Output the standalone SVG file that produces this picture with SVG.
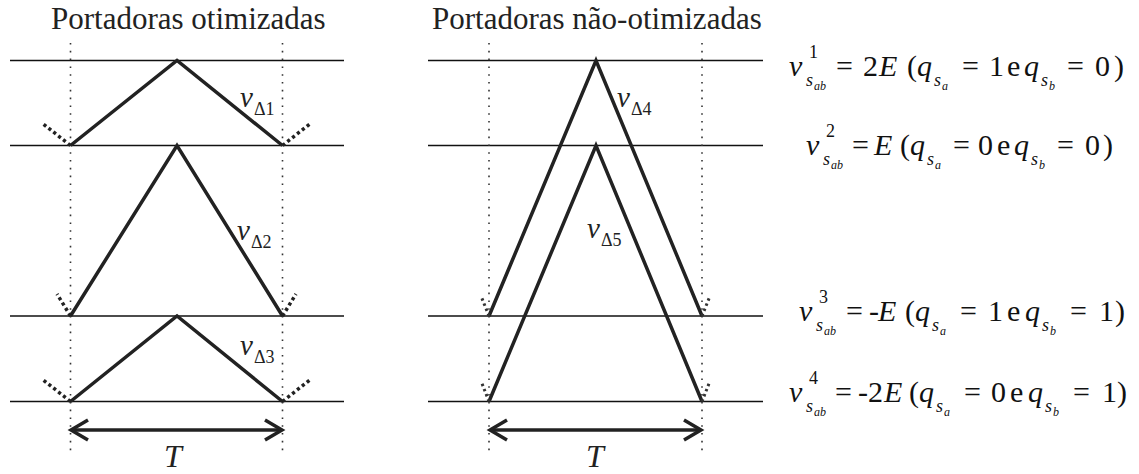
<svg xmlns="http://www.w3.org/2000/svg" width="1139" height="474" viewBox="0 0 1139 474">
<style>
.bg{fill:#fff}
.h{stroke:#111;stroke-width:1.5}
.dv{stroke:#333;stroke-width:1.6;stroke-dasharray:1.6 6.2}
.tri{stroke:#222;stroke-width:3.5;fill:none;stroke-linejoin:miter}
.ext{stroke:#222;stroke-width:3.5;stroke-dasharray:3.2 3}
.ext2{stroke:#333;stroke-width:3;stroke-dasharray:2.5 3}
.arr{stroke:#222;stroke-width:3.5;fill:none}
.title{font-family:'Liberation Serif','Times New Roman',serif;font-size:31px;fill:#222}
.eq{font-family:'Liberation Serif','Times New Roman',serif;font-size:30px;fill:#111}
.lbl{font-family:'Liberation Serif','Times New Roman',serif;font-size:29px;fill:#222}
.it{font-style:italic}
.sm{font-size:18px}
.xs{font-size:12px}
.T{font-family:'Liberation Serif','Times New Roman',serif;font-size:32px;font-style:italic;fill:#222}
</style>
<rect class="bg" x="0" y="0" width="1139" height="474"/>

<g id="titles">
<text class="title" x="51" y="29">Portadoras otimizadas</text>
<text class="title" x="432" y="29">Portadoras não-otimizadas</text>
</g>

<g id="grid">
<line class="h" x1="10" y1="60.5" x2="344" y2="60.5"/>
<line class="h" x1="10" y1="145.5" x2="344" y2="145.5"/>
<line class="h" x1="10" y1="316" x2="344" y2="316"/>
<line class="h" x1="10" y1="401.5" x2="344" y2="401.5"/>
<line class="h" x1="428" y1="60.5" x2="763" y2="60.5"/>
<line class="h" x1="428" y1="145.5" x2="763" y2="145.5"/>
<line class="h" x1="428" y1="316" x2="763" y2="316"/>
<line class="h" x1="428" y1="401.5" x2="763" y2="401.5"/>
<line class="dv" x1="70.5" y1="43" x2="70.5" y2="456"/>
<line class="dv" x1="282.5" y1="43" x2="282.5" y2="456"/>
<line class="dv" x1="489" y1="43" x2="489" y2="456"/>
<line class="dv" x1="702" y1="43" x2="702" y2="456"/>
</g>

<g id="carrier-d1">
<polyline class="tri" points="70.5,145.5 177,60.5 282.5,145.5"/>
<line class="ext" x1="70.5" y1="145.5" x2="42" y2="123"/>
<line class="ext" x1="282.5" y1="145.5" x2="311" y2="123"/>
<text class="lbl" x="240" y="107"><tspan class="it">v</tspan><tspan class="sm" dx="1" dy="8">Δ1</tspan></text>
</g>
<g id="carrier-d2">
<polyline class="tri" points="70.5,316 177,145.5 282.5,316"/>
<line class="ext" x1="70.5" y1="316" x2="57" y2="294"/>
<line class="ext" x1="282.5" y1="316" x2="296" y2="294"/>
<text class="lbl" x="237" y="240"><tspan class="it">v</tspan><tspan class="sm" dx="1" dy="8">Δ2</tspan></text>
</g>
<g id="carrier-d3">
<polyline class="tri" points="70.5,401.5 177,316 282.5,401.5"/>
<line class="ext" x1="70.5" y1="401.5" x2="42" y2="379"/>
<line class="ext" x1="282.5" y1="401.5" x2="311" y2="379"/>
<text class="lbl" x="240" y="355"><tspan class="it">v</tspan><tspan class="sm" dx="1" dy="8">Δ3</tspan></text>
</g>
<g id="carrier-d4">
<polyline class="tri" points="489,316 596,60.5 702,316"/>
<line class="ext2" x1="489" y1="316" x2="481" y2="296"/>
<line class="ext2" x1="702" y1="316" x2="710" y2="296"/>
<text class="lbl" x="617" y="107"><tspan class="it">v</tspan><tspan class="sm" dx="1" dy="8">Δ4</tspan></text>
</g>
<g id="carrier-d5">
<polyline class="tri" points="489,401.5 596,145.5 702,401.5"/>
<line class="ext2" x1="489" y1="401.5" x2="481" y2="381"/>
<line class="ext2" x1="702" y1="401.5" x2="710" y2="381"/>
<text class="lbl" x="587" y="238"><tspan class="it">v</tspan><tspan class="sm" dx="1" dy="8">Δ5</tspan></text>
</g>

<g id="connectors">
<line class="arr" x1="72" y1="430" x2="281" y2="430"/>
<polyline class="arr" points="88,420 71,430 88,440"/>
<polyline class="arr" points="265,420 282,430 265,440"/>
<line class="arr" x1="491" y1="430" x2="700" y2="430"/>
<polyline class="arr" points="507,420 490,430 507,440"/>
<polyline class="arr" points="684,420 701,430 684,440"/>
</g>

<g id="period-labels">
<text class="T" x="164" y="467">T</text>
<text class="T" x="586" y="467">T</text>
</g>

<g id="eq1">
<text class="eq">
<tspan class="it" x="789" y="76">v</tspan>
<tspan class="sm" x="809" y="58">1</tspan>
<tspan class="sm it" x="806" y="86">s</tspan><tspan class="xs it" x="814" y="90">ab</tspan>
<tspan x="836" y="76">=</tspan>
<tspan x="863" y="76">2</tspan>
<tspan class="it" x="879" y="76">E</tspan>
<tspan x="907" y="76">(</tspan>
<tspan class="it" x="917" y="76">q</tspan>
<tspan class="sm it" x="934" y="86">s</tspan><tspan class="xs it" x="942" y="90">a</tspan>
<tspan x="962" y="76">=</tspan>
<tspan x="989" y="76">1</tspan>
<tspan x="1007" y="76">e</tspan>
<tspan class="it" x="1024" y="76">q</tspan>
<tspan class="sm it" x="1041" y="86">s</tspan><tspan class="xs it" x="1049" y="90">b</tspan>
<tspan x="1067" y="76">=</tspan>
<tspan x="1095" y="76">0</tspan>
<tspan x="1114" y="76">)</tspan>
</text>
</g>

<g id="eq2">
<text class="eq">
<tspan class="it" x="806" y="155">v</tspan>
<tspan class="sm" x="826" y="137">2</tspan>
<tspan class="sm it" x="823" y="165">s</tspan><tspan class="xs it" x="831" y="169">ab</tspan>
<tspan x="852" y="155">=</tspan>
<tspan class="it" x="874" y="155">E</tspan>
<tspan x="900" y="155">(</tspan>
<tspan class="it" x="910" y="155">q</tspan>
<tspan class="sm it" x="927" y="165">s</tspan><tspan class="xs it" x="935" y="169">a</tspan>
<tspan x="953" y="155">=</tspan>
<tspan x="978" y="155">0</tspan>
<tspan x="997" y="155">e</tspan>
<tspan class="it" x="1014" y="155">q</tspan>
<tspan class="sm it" x="1031" y="165">s</tspan><tspan class="xs it" x="1039" y="169">b</tspan>
<tspan x="1057" y="155">=</tspan>
<tspan x="1085" y="155">0</tspan>
<tspan x="1103" y="155">)</tspan>
</text>
</g>

<g id="eq3">
<text class="eq">
<tspan class="it" x="799" y="321">v</tspan>
<tspan class="sm" x="819" y="303">3</tspan>
<tspan class="sm it" x="816" y="331">s</tspan><tspan class="xs it" x="824" y="335">ab</tspan>
<tspan x="846" y="321">=</tspan>
<tspan x="869" y="321">-</tspan>
<tspan class="it" x="878" y="321">E</tspan>
<tspan x="905" y="321">(</tspan>
<tspan class="it" x="915" y="321">q</tspan>
<tspan class="sm it" x="932" y="331">s</tspan><tspan class="xs it" x="940" y="335">a</tspan>
<tspan x="960" y="321">=</tspan>
<tspan x="988" y="321">1</tspan>
<tspan x="1007" y="321">e</tspan>
<tspan class="it" x="1025" y="321">q</tspan>
<tspan class="sm it" x="1042" y="331">s</tspan><tspan class="xs it" x="1050" y="335">b</tspan>
<tspan x="1070" y="321">=</tspan>
<tspan x="1099" y="321">1</tspan>
<tspan x="1115" y="321">)</tspan>
</text>
</g>

<g id="eq4">
<text class="eq">
<tspan class="it" x="789" y="402">v</tspan>
<tspan class="sm" x="809" y="384">4</tspan>
<tspan class="sm it" x="806" y="412">s</tspan><tspan class="xs it" x="814" y="416">ab</tspan>
<tspan x="835" y="402">=</tspan>
<tspan x="858" y="402">-</tspan>
<tspan x="868" y="402">2</tspan>
<tspan class="it" x="884" y="402">E</tspan>
<tspan x="909" y="402">(</tspan>
<tspan class="it" x="919" y="402">q</tspan>
<tspan class="sm it" x="936" y="412">s</tspan><tspan class="xs it" x="944" y="416">a</tspan>
<tspan x="964" y="402">=</tspan>
<tspan x="991" y="402">0</tspan>
<tspan x="1010" y="402">e</tspan>
<tspan class="it" x="1028" y="402">q</tspan>
<tspan class="sm it" x="1045" y="412">s</tspan><tspan class="xs it" x="1053" y="416">b</tspan>
<tspan x="1073" y="402">=</tspan>
<tspan x="1102" y="402">1</tspan>
<tspan x="1117" y="402">)</tspan>
</text>
</g>
</svg>
